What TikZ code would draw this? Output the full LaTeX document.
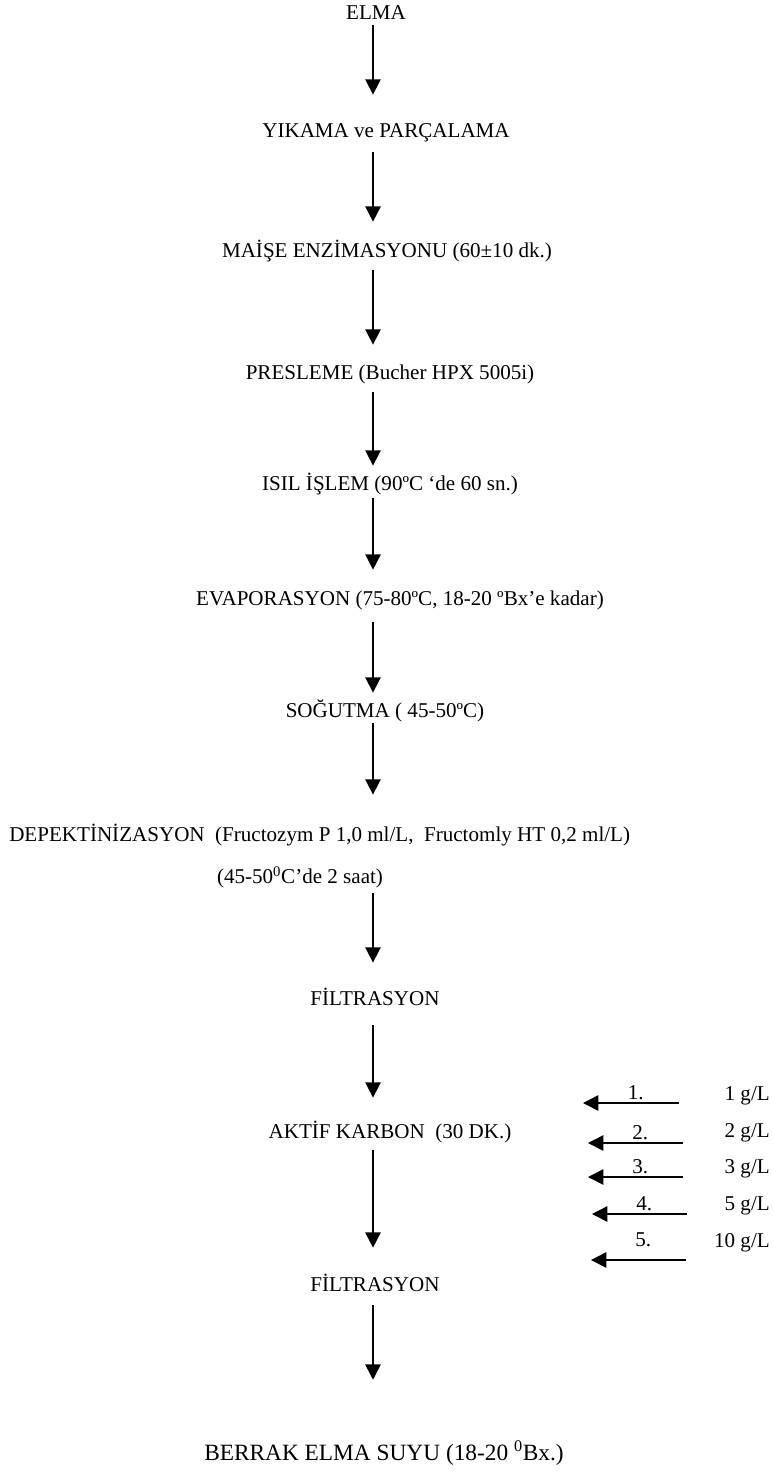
\documentclass[tikz,border=0pt]{standalone}
\usepackage{fontspec}
\setmainfont{Liberation Serif}
\usetikzlibrary{arrows.meta}
\tikzset{
  asama/.style={inner sep=0pt, text height=11.9pt, text depth=4pt, font=\fontsize{15.8}{19}\selectfont},
  sira/.style={asama, text depth=0pt},
  ok/.style={line width=1.2pt, -{Triangle[length=11.5pt,width=11.5pt]}},
}
\begin{document}
\begin{tikzpicture}[x=0.75pt, y=-0.75pt]
        \useasboundingbox (0,0) rectangle (772,1479);
        \coordinate (eksen) at (373,0);

        % Aşamalar
        \node[asama, anchor=base] (elma) at (376,19) {ELMA};
        \node[asama, anchor=base] (yikama) at (386,137) {YIKAMA ve PARÇALAMA};
        \node[asama, anchor=base] (maise) at (387,257) {MAİŞE ENZİMASYONU (60±10 dk.)};
        \node[asama, anchor=base] (presleme) at (390,379) {PRESLEME (Bucher HPX 5005i)};
        \node[asama, anchor=base] (isil) at (390,490) {ISIL İŞLEM (90ºC ‘de 60 sn.)};
        \node[asama, anchor=base] (evap) at (400,605) {EVAPORASYON (75-80ºC, 18-20 ºBx’e kadar)};
        \node[asama, anchor=base] (sogutma) at (385,717) {SOĞUTMA ( 45-50ºC)};
        \node[asama, anchor=base west] (depekt) at (9,841) {DEPEKTİNİZASYON\ \ (Fructozym P 1,0 ml/L,\ \ Fructomly HT 0,2 ml/L)};
        \node[asama, anchor=base] (sure) at (300,883) {(45-50\textsuperscript{0}C’de 2 saat)};
        \node[asama, anchor=base] (filt1) at (375,1005) {FİLTRASYON};
        \node[asama, anchor=base] (aktif) at (390,1138) {AKTİF KARBON\ \ (30 DK.)};
        \node[asama, anchor=base] (filt2) at (375,1291) {FİLTRASYON};
        \node[asama, anchor=base, text height=13.2pt, text depth=4.4pt, font=\fontsize{17.5}{21}\selectfont] (berrak) at (384,1460) {BERRAK ELMA SUYU (18-20 \textsuperscript{0}Bx.)};

        % Akış okları
        \draw[ok, shorten >=19.7pt] (elma.south -| eksen) -- (yikama.north -| eksen);
        \draw[ok, shorten <=7.3pt, shorten >=14.4pt] (yikama.south -| eksen) -- (maise.north -| eksen);
        \draw[ok, shorten <=5.8pt, shorten >=13.7pt] (maise.south -| eksen) -- (presleme.north -| eksen);
        \draw[ok, shorten <=5.8pt, shorten >=6.2pt] (presleme.south -| eksen) -- (isil.north -| eksen);
        \draw[ok, shorten <=2.1pt, shorten >=14.4pt] (isil.south -| eksen) -- (evap.north -| eksen);
        \draw[ok, shorten <=8.8pt, shorten >=6.2pt] (evap.south -| eksen) -- (sogutma.north -| eksen);
        \draw[ok, shorten >=22.7pt] (sogutma.south -| eksen) -- (depekt.north -| eksen);
        \draw[ok, shorten <=3.6pt, shorten >=19.7pt] (sure.south -| eksen) -- (filt1.north -| eksen);
        \draw[ok, shorten <=11.1pt, shorten >=18.2pt] (filt1.south -| eksen) -- (aktif.north -| eksen);
        \draw[ok, shorten <=5.1pt, shorten >=20.4pt] (aktif.south -| eksen) -- (filt2.north -| eksen);
        \draw[ok, shorten <=6.6pt, shorten >=46.8pt] (filt2.south -| eksen) -- (berrak.north -| eksen);

        % Karbon dozları
        \coordinate (k1) at (679,1103);
        \coordinate (k2) at (683,1143);
        \coordinate (k3) at (683,1177);
        \coordinate (k4) at (687,1214);
        \coordinate (k5) at (686,1260);
        \draw[ok] (k1) -- node[sira, pos=.45, above=2pt] (n1) {1.} ++(-96,0);
        \draw[ok] (k2) -- node[sira, pos=.45, above=2pt] (n2) {2.} ++(-95,0);
        \draw[ok] (k3) -- node[sira, pos=.45, above=2pt] (n3) {3.} ++(-95,0);
        \draw[ok] (k4) -- node[sira, pos=.45, above=2pt] (n4) {4.} ++(-95,0);
        \draw[ok] (k5) -- node[sira, pos=.45, above=9.5pt] (n5) {5.} ++(-95,0);
        \node[asama, anchor=base east] (d1) at (770,1100) {1 g/L};
        \node[asama, anchor=base east] (d2) at (770,1137) {2 g/L};
        \node[asama, anchor=base east] (d3) at (770,1173) {3 g/L};
        \node[asama, anchor=base east] (d4) at (770,1210) {5 g/L};
        \node[asama, anchor=base east] (d5) at (770,1247) {10 g/L};
\end{tikzpicture}
\end{document}
